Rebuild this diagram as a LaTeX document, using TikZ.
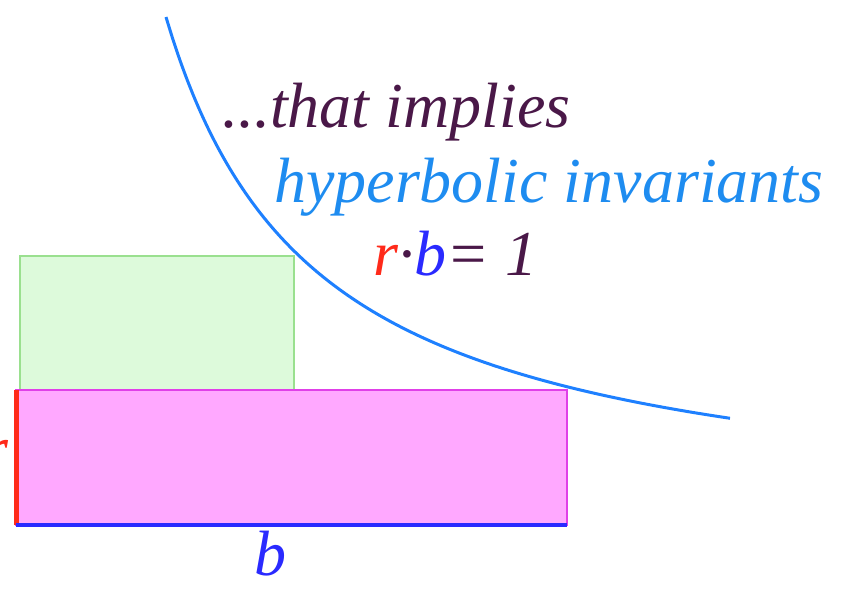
\documentclass[tikz,border=0pt]{standalone}
\usepackage{fontspec}
\setmainfont{Liberation Serif}
\usetikzlibrary{positioning}
\usepackage{xcolor}
\definecolor{hyppurple}{HTML}{4A1848}
\definecolor{hypblue}{HTML}{1E8CF0}
\definecolor{curveblue}{HTML}{1E80FF}
\definecolor{sideblue}{HTML}{2A2AFF}
\definecolor{sidered}{HTML}{FF2A1A}
\definecolor{greenfill}{HTML}{DDFADB}
\definecolor{greenedge}{HTML}{9AE08F}
\definecolor{pinkfill}{HTML}{FFA8FF}
\definecolor{pinkedge}{HTML}{E040E8}

\begin{document}
\begin{tikzpicture}[x=1pt, y=-1pt, font=\fontsize{64}{70}\selectfont\itshape,
    caption/.style={inner sep=0pt, anchor=base west}]
    \useasboundingbox (0,0) rectangle (847,590);
    % the two rectangles
    \draw[greenedge, fill=greenfill, line width=1.5pt] (20,256) rectangle (294,390);
    \draw[pinkedge, fill=pinkfill, line width=2pt] (16,390) rectangle (567,525);
    \draw[sidered, line width=5pt] (16,390) -- (16,525);
    \draw[sideblue, line width=4pt] (16,525) -- (567,525);
    % hyperbola r*b = const
    \draw[curveblue, line width=3pt, domain=150:714, samples=80, smooth]
        plot ({16+\x}, {525-762/\x*100});
    \node[caption, text=hyppurple] (implies) at (222,127) {...that implies};
    \node[caption, text=hypblue] (invariants) at (274,202) {hyperbolic invariants};
    \node[caption, text=hyppurple] (product) at (373,275)
        {{\color{sidered}r}·{\color{sideblue}b}= 1};
    \node[inner sep=0pt, anchor=base, text=sideblue] (blabel) at (270,575) {b};
    \node[inner sep=0pt, anchor=base east, text=sidered] (rlabel) at (9,470) {r};
\end{tikzpicture}
\end{document}
